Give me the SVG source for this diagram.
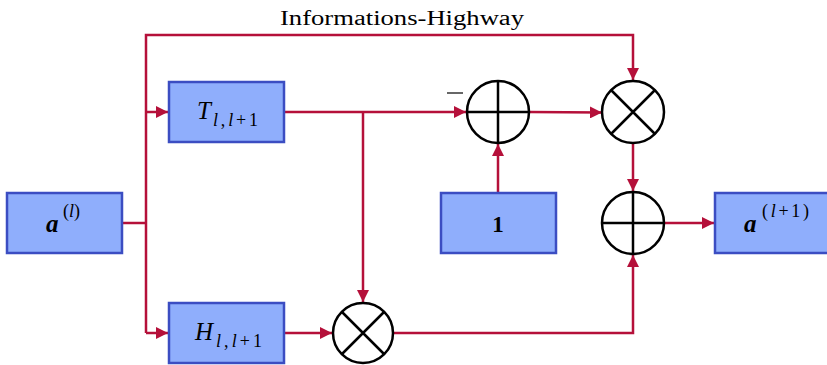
<svg xmlns="http://www.w3.org/2000/svg" width="827" height="365" viewBox="0 0 827 365">
<defs>
<style>
.box{fill:#8FAEFC;stroke:#3B4DC2;stroke-width:2.5}
.op{fill:#fff;stroke:#000;stroke-width:2.5}
.opl{stroke:#000;stroke-width:2.5;fill:none}
.c{fill:none;stroke:#B5103A;stroke-width:2.5}
.t{font-family:"Liberation Serif","DejaVu Serif",serif;fill:#000}
.m{font-family:"Liberation Serif","DejaVu Serif",serif;font-style:italic;fill:#000}
</style>
<marker id="ah" viewBox="0 0 12 12" refX="12" refY="6" markerWidth="12" markerHeight="12" markerUnits="userSpaceOnUse" orient="auto">
<path d="M0,0 L12,6 L0,12 Z" fill="#B5103A"/>
</marker>
</defs>
<rect width="827" height="365" fill="#fff"/>
<g id="connectors">
<path class="c" d="M122,223 H146"/>
<path class="c" d="M146,333 V35 H633 V80" marker-end="url(#ah)"/>
<path class="c" d="M146,112 H168" marker-end="url(#ah)"/>
<path class="c" d="M146,333 H168" marker-end="url(#ah)"/>
<path class="c" d="M284,112 H466" marker-end="url(#ah)"/>
<path class="c" d="M363,112 V302" marker-end="url(#ah)"/>
<path class="c" d="M284,333 H332" marker-end="url(#ah)"/>
<path class="c" d="M394,333 H633 V255" marker-end="url(#ah)"/>
<path class="c" d="M498,193 V144" marker-end="url(#ah)"/>
<path class="c" d="M529,112 L602,112.5" marker-end="url(#ah)"/>
<path class="c" d="M633,143 V191" marker-end="url(#ah)"/>
<path class="c" d="M664,223 H714" marker-end="url(#ah)"/>
</g>
<text class="t" x="402" y="25" font-size="20" text-anchor="middle" textLength="244" lengthAdjust="spacingAndGlyphs">Informations-Highway</text>
<g id="a_l">
<rect class="box" x="7" y="193" width="115" height="60"/>
<text class="m" x="46" y="232" font-size="25" font-weight="bold">a</text>
<text class="m" x="63" y="217" font-size="18"><tspan font-style="normal">(</tspan>l<tspan font-style="normal">)</tspan></text>
</g>
<g id="T">
<rect class="box" x="169" y="82" width="115" height="60"/>
<text class="m" x="197" y="119" font-size="25">T</text>
<text class="m" x="213" y="126" font-size="18" textLength="45" lengthAdjust="spacing">l<tspan font-style="normal">,</tspan>l<tspan font-style="normal">+1</tspan></text>
</g>
<g id="H">
<rect class="box" x="169" y="303" width="115" height="60"/>
<text class="m" x="195" y="340" font-size="25">H</text>
<text class="m" x="216" y="347" font-size="18" textLength="46" lengthAdjust="spacing">l<tspan font-style="normal">,</tspan>l<tspan font-style="normal">+1</tspan></text>
</g>
<g id="one">
<rect class="box" x="441" y="193" width="115" height="60"/>
<text class="t" x="498" y="232" font-size="23" font-weight="bold" text-anchor="middle">1</text>
</g>
<g id="a_l1">
<rect class="box" x="715" y="193" width="116" height="60"/>
<text class="m" x="744" y="232" font-size="25" font-weight="bold">a</text>
<text class="m" x="762" y="217" font-size="18" textLength="47" lengthAdjust="spacing"><tspan font-style="normal">(</tspan>l<tspan font-style="normal">+1)</tspan></text>
</g>
<g id="sum_top">
<circle class="op" cx="498" cy="112" r="31"/>
<path class="opl" d="M467,112 H529 M498,81 V143"/>
<path d="M447,93 H463" stroke="#000" stroke-width="1.2"/>
</g>
<g id="mul_top">
<circle class="op" cx="633" cy="112" r="31"/>
<path class="opl" d="M611,90 L655,134 M655,90 L611,134"/>
</g>
<g id="sum_bottom">
<circle class="op" cx="633" cy="223" r="31"/>
<path class="opl" d="M602,223 H664 M633,192 V254"/>
</g>
<g id="mul_bottom">
<circle class="op" cx="363" cy="333" r="30"/>
<path class="opl" d="M342,312 L384,354 M384,312 L342,354"/>
</g>
</svg>
